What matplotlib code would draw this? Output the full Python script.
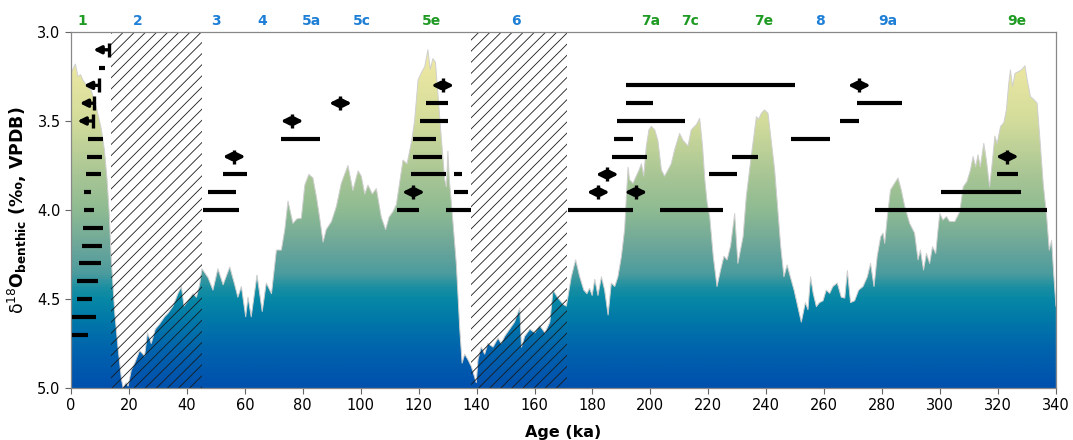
import numpy as np
import matplotlib
matplotlib.use('Agg')
import matplotlib.pyplot as plt
from matplotlib.colors import LinearSegmentedColormap
from matplotlib.patches import Rectangle, Polygon
from matplotlib.transforms import blended_transform_factory

# benthic d18O record (ka, permil)
age = [0.0, 1.5, 2.4, 3.3, 4.1, 5.3, 7.0, 8.7, 10.5, 11.5, 12.4, 13.2, 13.9, 15.1,
       16.2, 17.4, 18.0, 19.0, 19.7, 20.8, 22.0, 23.7, 25.4, 26.4, 27.7, 29.1, 30.6,
       32.3, 33.5, 35.2, 36.9, 38.1, 39.0, 40.4, 42.1, 43.3, 44.4, 45.2, 47.3, 49.0,
       50.7, 52.5, 54.8, 56.5, 57.6, 58.8, 60.3, 61.1, 62.2, 64.2, 66.0, 67.4, 69.2,
       70.9, 72.6, 73.8, 74.9, 76.6, 78.0, 79.5, 80.7, 82.1, 83.5, 84.7, 85.8, 87.0,
       88.1, 89.9, 91.6, 93.3, 95.6, 97.3, 99.1, 100.2, 101.4, 102.5, 104.0, 105.4,
       107.1, 108.6, 109.8, 111.1, 112.3, 113.4, 114.6, 116.0, 117.5, 118.6, 119.8,
       120.9, 122.1, 123.2, 124.0, 124.9, 125.8, 126.7, 127.8, 129.0, 129.6, 130.1,
       130.6, 131.3, 133.0, 134.2, 135.0, 135.9, 137.0, 138.2, 139.9, 140.5, 141.6,
       142.8, 143.9, 145.7, 147.4, 148.5, 149.7, 151.4, 153.1, 154.9, 155.5, 156.6,
       158.4, 160.1, 161.8, 163.6, 165.3, 166.4, 167.9, 169.9, 171.0, 172.7, 174.2,
       175.6, 177.0, 178.1, 179.0, 179.9, 180.8, 181.9, 183.1, 184.2, 185.4, 186.5,
       187.7, 188.8, 190.0, 191.1, 191.7, 192.3, 192.8, 194.0, 195.1, 196.1, 196.9,
       197.7, 198.6, 199.5, 200.3, 201.5, 202.6, 203.8, 204.9, 206.1, 207.2, 208.4,
       210.1, 211.3, 213.0, 214.1, 215.9, 217.0, 218.0, 218.8, 219.6, 220.5, 221.7,
       223.0, 224.2, 225.4, 226.5, 227.7, 229.1, 230.2, 232.0, 233.1, 234.8, 236.6,
       237.4, 238.3, 239.4, 240.6, 241.7, 242.9, 244.1, 245.0, 246.1, 247.2, 248.3,
       249.6, 250.9, 252.1, 253.5, 254.4, 255.3, 256.2, 257.3, 258.4, 259.6, 260.7,
       261.9, 263.0, 264.5, 265.9, 267.1, 268.0, 269.1, 270.5, 271.9, 273.4, 274.9,
       276.0, 277.2, 278.3, 279.5, 280.3, 280.9, 281.8, 282.9, 284.3, 285.5, 286.6,
       287.8, 289.5, 291.2, 292.4, 293.2, 294.3, 295.3, 296.4, 297.4, 298.5, 299.3,
       299.9, 301.0, 302.2, 303.3, 305.1, 306.8, 308.0, 309.3, 310.5, 311.4, 312.3,
       313.1, 313.9, 315.1, 316.0, 317.1, 318.1, 318.9, 319.7, 320.9, 322.0, 322.9,
       323.7, 324.3, 325.0, 325.9, 327.0, 328.1, 329.3, 330.1, 331.2, 332.4, 333.5,
       334.5, 335.6, 336.8, 337.7, 338.5, 339.3, 340.0]
d18o = [3.23, 3.18, 3.25, 3.24, 3.27, 3.30, 3.33, 3.42, 3.55, 3.66, 3.82, 4.02, 4.28, 4.58,
        4.77, 4.95, 5.00, 4.97, 4.99, 4.90, 4.86, 4.79, 4.82, 4.69, 4.75, 4.67, 4.64,
        4.60, 4.58, 4.54, 4.47, 4.43, 4.54, 4.51, 4.47, 4.49, 4.42, 4.33, 4.38, 4.45,
        4.33, 4.42, 4.32, 4.42, 4.49, 4.43, 4.60, 4.49, 4.60, 4.365, 4.57, 4.41, 4.47,
        4.225, 4.225, 4.11, 3.95, 4.075, 4.05, 4.046, 3.86, 3.80, 3.82, 3.925, 4.04, 4.18,
        4.11, 4.065, 3.98, 3.85, 3.75, 3.89, 3.78, 3.81, 3.91, 3.86, 3.91, 3.88,
        4.04, 4.11, 4.04, 4.01, 3.97, 3.85, 3.72, 3.74, 3.62, 3.50, 3.27,
        3.23, 3.195, 3.10, 3.21, 3.15, 3.17, 3.36, 3.59, 3.83, 3.87, 3.67,
        3.83, 3.96, 4.30, 4.67, 4.86, 4.81, 4.84, 4.88, 4.97, 4.84, 4.77,
        4.81, 4.75, 4.77, 4.72, 4.75, 4.71, 4.67, 4.63, 4.55, 4.77, 4.71,
        4.67, 4.69, 4.65, 4.69, 4.63, 4.45, 4.49, 4.53, 4.54, 4.375, 4.28,
        4.375, 4.45, 4.47, 4.44, 4.48, 4.39, 4.48, 4.375, 4.45, 4.59, 4.41,
        4.43, 4.375, 4.26, 4.11, 3.925, 3.76, 3.83, 3.85, 3.81, 3.775, 3.74,
        3.81, 3.64, 3.55, 3.53, 3.55, 3.61, 3.775, 3.81, 3.775, 3.74, 3.66,
        3.57, 3.61, 3.64, 3.55, 3.52, 3.485, 3.64, 3.83, 3.96, 4.04, 4.26,
        4.43, 4.34, 4.26, 4.28, 4.20, 4.02, 4.30, 4.15, 3.925, 3.70, 3.476,
        3.49, 3.457, 3.438, 3.457, 3.607, 3.775, 4.02, 4.206, 4.375, 4.309, 4.375,
        4.45, 4.543, 4.63, 4.52, 4.56, 4.375, 4.468, 4.543, 4.52, 4.51, 4.45,
        4.468, 4.43, 4.41, 4.49, 4.495, 4.34, 4.52, 4.51, 4.45, 4.43, 4.375,
        4.30, 4.43, 4.26, 4.15, 4.13, 4.187, 4.037, 3.887, 3.85, 3.82, 3.887,
        3.98, 4.075, 4.13, 4.28, 4.225, 4.337, 4.244, 4.30, 4.206, 4.244, 4.11,
        4.02, 4.056, 4.037, 4.065, 4.065, 4.01, 3.87, 3.84, 3.775, 3.70, 3.757,
        3.69, 3.757, 3.626, 3.72, 3.87, 3.72, 3.585, 3.626, 3.53, 3.51, 3.438,
        3.29, 3.213, 3.307, 3.232, 3.223, 3.213, 3.19, 3.27, 3.363, 3.38, 3.40,
        3.607, 3.85, 4.037, 4.225, 4.17, 4.375, 4.54]

# marine isotope stage labels along the top
mis_names = ['1', '2', '3', '4', '5a', '5c', '5e', '6', '7a', '7c', '7e', '8', '9a', '9e']
mis_ages = [3.8, 23.0, 50.0, 66.0, 83.0, 100.5, 124.6, 153.6, 200.0, 213.7, 239.0, 258.5, 282.0, 326.5]
mis_warm = [True, False, False, False, False, False, True, False, True, True, True, False, False, True]

# hatched glacial intervals
hatch_start = [13.8, 138.0]
hatch_end = [45.1, 171.1]

# horizontal bars (y, start, end)
bar_y = [3.2, 3.6, 3.7, 3.8, 3.9, 4.0, 4.1, 4.2, 4.3, 4.4, 4.5, 4.6, 4.7,
         4.0, 3.9, 3.8, 3.6,
         3.4, 3.5, 3.6, 3.7, 3.8, 3.8, 3.9, 4.0, 4.0,
         3.3, 3.4, 3.5, 3.6, 3.7, 4.0, 4.0, 3.8, 3.7, 3.6, 3.5, 3.4,
         4.0, 3.9, 3.8]
bar_start = [9.5, 6.0, 5.5, 5.2, 4.4, 4.5, 4.0, 3.7, 2.8, 2.2, 2.0, 0.5, 0.5,
             45.5, 47.4, 52.4, 72.4,
             122.5, 120.5, 118.2, 118.2, 117.4, 132.3, 132.3, 112.4, 129.4,
             191.6, 191.6, 188.6, 187.5, 186.6, 171.4, 203.3, 220.3, 228.3, 248.4, 265.4, 271.4,
             277.5, 300.3, 319.5]
bar_end = [11.7, 11.0, 10.7, 10.2, 6.9, 8.0, 11.0, 10.6, 10.2, 9.4, 7.1, 8.6, 6.0,
           58.0, 57.0, 60.9, 86.0,
           130.0, 130.0, 126.0, 128.0, 129.4, 135.0, 137.2, 120.2, 138.0,
           250.0, 201.0, 212.0, 194.1, 198.9, 193.9, 225.0, 230.0, 237.0, 262.0, 272.0, 287.0,
           337.0, 328.0, 327.0]

# double arrows (y, centre)
arrow_y = [3.7, 3.5, 3.4, 3.3, 3.9, 3.8, 3.9, 3.9, 3.3, 3.7]
arrow_x = [56.3, 76.3, 93.0, 128.3, 118.2, 185.1, 182.0, 195.0, 272.1, 323.2]

# half arrows (y, tip, end with tick)
half_y = [3.1, 3.3, 3.4, 3.5]
half_tip = [7.7, 4.4, 3.0, 2.2]
half_end = [13.0, 9.7, 8.1, 7.6]

plt.rcParams['hatch.linewidth'] = 0.6

fig = plt.figure(figsize=(10.73, 4.40), dpi=100)
ax = fig.add_axes([0.0662, 0.1182, 0.9179, 0.8091])

cmap = LinearSegmentedColormap.from_list('d18o', [
    (0.00, '#f4eeaa'), (0.10, '#ebe7a2'), (0.25, '#d3dc9b'), (0.40, '#a9c695'),
    (0.50, '#8fbb92'), (0.60, '#6ea79a'), (0.68, '#4c9c9e'), (0.72, '#1a8fa2'),
    (0.75, '#0888a5'), (0.82, '#0076a9'), (0.90, '#0062ad'), (1.00, '#0050ad')])

grad = np.linspace(3.0, 5.0, 400).reshape(-1, 1)
im = ax.imshow(grad, extent=[0, 340, 5.0, 3.0], aspect='auto', cmap=cmap,
               vmin=3.0, vmax=5.0, origin='upper', zorder=1, interpolation='bilinear')
verts = np.column_stack([np.r_[age, age[::-1]], np.r_[d18o, [5.0] * len(age)]])
poly = Polygon(verts, closed=True, facecolor='none', edgecolor='none', transform=ax.transData)
ax.add_patch(poly)
im.set_clip_path(poly)
ax.plot(age, d18o, color='#cfcfcf', lw=0.7, zorder=1.5)

for x0, x1 in zip(hatch_start, hatch_end):
    ax.add_patch(Rectangle((x0, 3.0), x1 - x0, 2.0, facecolor='none',
                           edgecolor='#1a1a1a', lw=0, hatch='///', zorder=2))

ax.hlines(bar_y, bar_start, bar_end, colors='k', lw=3.0, zorder=4)

for y, xc in zip(arrow_y, arrow_x):
    ax.annotate('', xy=(xc + 3.9, y), xytext=(xc - 3.9, y),
                arrowprops=dict(arrowstyle='<|-|>', color='k', lw=2.4,
                                mutation_scale=11, shrinkA=0, shrinkB=0), zorder=4)
    ax.plot([xc], [y], marker='|', color='k', ms=10, mew=2.4, zorder=4)

for y, xt, xe in zip(half_y, half_tip, half_end):
    ax.annotate('', xy=(xt, y), xytext=(xe, y),
                arrowprops=dict(arrowstyle='-|>', color='k', lw=2.4,
                                mutation_scale=11, shrinkA=0, shrinkB=0), zorder=4)
    ax.plot([xe], [y], marker='|', color='k', ms=10, mew=2.4, zorder=4)

trans = blended_transform_factory(ax.transData, ax.transAxes)
for name, xa, warm in zip(mis_names, mis_ages, mis_warm):
    ax.text(xa, 1.012, name, transform=trans, ha='center', va='bottom',
            fontsize=10, fontweight='bold', color='#1f9a22' if warm else '#1e7fd6')

ax.set_xlim(0, 340)
ax.set_ylim(5.0, 3.0)
ax.set_xticks(np.arange(0, 341, 20))
ax.set_yticks([3.0, 3.5, 4.0, 4.5, 5.0])
ax.tick_params(labelsize=10.5, length=4, color='#666666')
for sp in ax.spines.values():
    sp.set_color('#888888')
    sp.set_linewidth(0.9)

ax.set_xlabel('Age (ka)', fontsize=11.5, fontweight='bold', labelpad=8)
ax.set_ylabel(r'$\mathrm{\delta}^{18}\mathbf{O}_{\mathbf{benthic}}$ (‰, VPDB)', fontsize=12.5,
              fontweight='bold', labelpad=6)

fig.savefig('out.png', dpi=100)
